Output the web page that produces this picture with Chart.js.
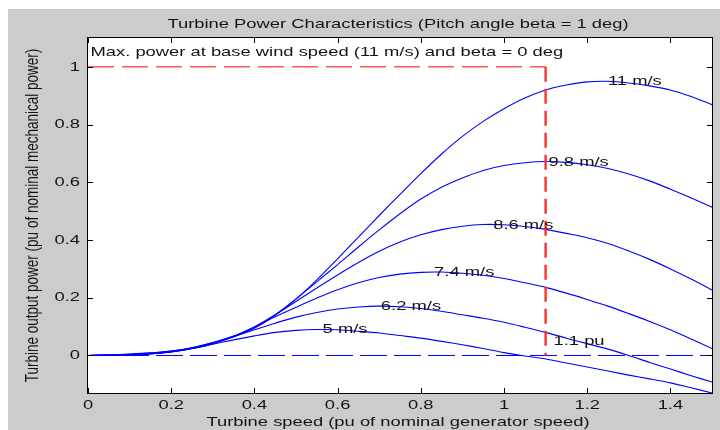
<!DOCTYPE html>
<html>
<head>
<meta charset="utf-8">
<script src="https://cdn.jsdelivr.net/npm/chart.js@4.4.1/dist/chart.umd.min.js"></script>
<style>
  html, body { margin: 0; padding: 0; background: #fff; }
  canvas { display: block; }
</style>
</head>
<body>
<canvas id="chart" width="720" height="430"></canvas>
<script>
// turbine speed (pu) and output power (pu) for each wind speed
const turbineSpeed = [0, 0.05, 0.1, 0.15, 0.2, 0.25, 0.3, 0.35, 0.4, 0.45, 0.5, 0.55, 0.6, 0.65, 0.7, 0.75,
  0.8, 0.85, 0.9, 0.95, 1, 1.05, 1.1, 1.15, 1.2, 1.25, 1.3, 1.35, 1.4, 1.45, 1.5];

const power11 = [0, 0.002, 0.005, 0.009, 0.015, 0.027, 0.045, 0.067, 0.095, 0.140, 0.195, 0.262, 0.335, 0.410, 0.485, 0.558,
  0.630, 0.698, 0.759, 0.811, 0.855, 0.892, 0.920, 0.937, 0.948, 0.950, 0.944, 0.934, 0.920, 0.897, 0.869];
const power98 = [0, 0.002, 0.004, 0.008, 0.015, 0.027, 0.043, 0.064, 0.095, 0.140, 0.196, 0.255, 0.315, 0.376, 0.435, 0.491,
  0.542, 0.583, 0.615, 0.641, 0.658, 0.668, 0.672, 0.669, 0.661, 0.648, 0.629, 0.605, 0.576, 0.546, 0.514];
const power86 = [0, 0.001, 0.003, 0.007, 0.014, 0.026, 0.042, 0.066, 0.099, 0.141, 0.187, 0.234, 0.279, 0.322, 0.361, 0.393,
  0.418, 0.436, 0.448, 0.454, 0.453, 0.447, 0.437, 0.423, 0.408, 0.388, 0.362, 0.333, 0.300, 0.265, 0.227];
const power74 = [0, 0.001, 0.003, 0.006, 0.013, 0.024, 0.041, 0.067, 0.099, 0.134, 0.167, 0.199, 0.228, 0.252, 0.270, 0.282,
  0.288, 0.289, 0.285, 0.278, 0.267, 0.252, 0.236, 0.216, 0.194, 0.171, 0.145, 0.118, 0.089, 0.057, 0.024];
const power62 = [0, 0.001, 0.002, 0.006, 0.012, 0.024, 0.043, 0.066, 0.089, 0.112, 0.133, 0.149, 0.161, 0.168, 0.171, 0.169,
  0.163, 0.153, 0.141, 0.129, 0.115, 0.098, 0.080, 0.060, 0.041, 0.022, 0.000, -0.024, -0.047, -0.070, -0.092];
const power50 = [0, 0.001, 0.002, 0.005, 0.012, 0.024, 0.039, 0.054, 0.068, 0.080, 0.087, 0.090, 0.089, 0.084, 0.078, 0.069,
  0.060, 0.049, 0.037, 0.024, 0.010, -0.002, -0.012, -0.026, -0.040, -0.054, -0.068, -0.081, -0.095, -0.112, -0.130];

// reference lines: max power at base wind speed, 1.1 pu speed limit, zero power
const maxPowerX = [0, 1.1];
const maxPowerY = [1, 1];
const speedLimitX = [1.1, 1.1];
const speedLimitY = [1, 0];
const zeroX = [0, 1.5];
const zeroY = [0, 0];

const xTicks = [0, 0.2, 0.4, 0.6, 0.8, 1, 1.2, 1.4];
const yTicks = [0, 0.2, 0.4, 0.6, 0.8, 1];

// text placed in data units (left edge, vertical middle)
const curveLabels = [
  { text: 'Max. power at base wind speed (11 m/s) and beta = 0 deg', x: 0.006, y: 1.049 },
  { text: '11 m/s', x: 1.25, y: 0.949 },
  { text: '9.8 m/s', x: 1.107, y: 0.670 },
  { text: '8.6 m/s', x: 0.974, y: 0.452 },
  { text: '7.4 m/s', x: 0.832, y: 0.288 },
  { text: '6.2 m/s', x: 0.704, y: 0.170 },
  { text: '5 m/s', x: 0.564, y: 0.090 },
  { text: '1.1 pu', x: 1.119, y: 0.050 }
];

const TITLE = 'Turbine Power Characteristics (Pitch angle beta = 1 deg)';
const X_TITLE = 'Turbine speed (pu of nominal generator speed)';
const Y_TITLE = 'Turbine output power (pu of nominal mechanical power)';

const FONT = "13.5px 'Liberation Sans', Arial, sans-serif";
const TEXT_COLOR = '#141414';
const STRETCH = 1.36; // the figure's text is wide

const toPoints = (xs, ys) => xs.map((x, i) => ({ x: x, y: ys[i] }));

function curve(values) {
  return {
    data: toPoints(turbineSpeed, values),
    borderColor: '#0000ff',
    borderWidth: 1.1,
    pointRadius: 0,
    tension: 0.3,
    fill: false
  };
}

function dashed(xs, ys, color, dash, width) {
  return {
    data: toPoints(xs, ys),
    borderColor: color,
    borderWidth: width,
    borderDash: dash,
    pointRadius: 0,
    tension: 0,
    fill: false
  };
}

function stretchedText(ctx, text, x, y, align, baseline, rotated) {
  ctx.save();
  ctx.translate(x, y);
  ctx.scale(STRETCH, 1);
  if (rotated) ctx.rotate(-Math.PI / 2);
  ctx.textAlign = align;
  ctx.textBaseline = baseline;
  ctx.fillText(text, 0, 0);
  ctx.restore();
}

const figurePlugin = {
  id: 'figure',
  beforeDraw(chart) {
    const { ctx, chartArea: a } = chart;
    ctx.save();
    ctx.fillStyle = '#ffffff';
    ctx.fillRect(0, 0, chart.width, chart.height);
    ctx.fillStyle = '#cccccc';
    ctx.fillRect(8, 9, chart.width - 8, chart.height - 9);
    ctx.fillStyle = '#ffffff';
    ctx.fillRect(a.left, a.top, a.right - a.left, a.bottom - a.top);
    ctx.restore();
  },
  afterDraw(chart) {
    const { ctx, chartArea: a } = chart;
    const xs = chart.scales.x;
    const ys = chart.scales.y;
    ctx.save();

    // axes box
    ctx.strokeStyle = '#000';
    ctx.lineWidth = 1;
    ctx.strokeRect(Math.round(a.left) - 0.5, Math.round(a.top) - 0.5,
      Math.round(a.right - a.left) + 1, Math.round(a.bottom - a.top) + 1);

    ctx.font = FONT;
    ctx.fillStyle = TEXT_COLOR;

    // ticks point inwards, on all four sides
    ctx.beginPath();
    xs.ticks.forEach(t => {
      const px = Math.round(xs.getPixelForValue(t.value)) + 0.5;
      ctx.moveTo(px, a.bottom); ctx.lineTo(px, a.bottom - 5);
      ctx.moveTo(px, a.top); ctx.lineTo(px, a.top + 5);
    });
    ys.ticks.forEach(t => {
      const py = Math.round(ys.getPixelForValue(t.value)) + 0.5;
      ctx.moveTo(a.left, py); ctx.lineTo(a.left + 5, py);
      ctx.moveTo(a.right, py); ctx.lineTo(a.right - 5, py);
    });
    ctx.stroke();

    xs.ticks.forEach(t => {
      stretchedText(ctx, String(t.value), xs.getPixelForValue(t.value), a.bottom + 12, 'center', 'middle');
    });
    ys.ticks.forEach(t => {
      stretchedText(ctx, String(t.value), a.left - 8, ys.getPixelForValue(t.value), 'right', 'middle');
    });

    const cx = (a.left + a.right) / 2;
    const cy = (a.top + a.bottom) / 2;
    stretchedText(ctx, TITLE, cx - 2, 24, 'center', 'middle');
    stretchedText(ctx, X_TITLE, cx - 2, 422, 'center', 'middle');
    stretchedText(ctx, Y_TITLE, 33, cy, 'center', 'middle', true);

    curveLabels.forEach(l => {
      stretchedText(ctx, l.text, xs.getPixelForValue(l.x), ys.getPixelForValue(l.y), 'left', 'middle');
    });

    ctx.restore();
  }
};

new Chart(document.getElementById('chart'), {
  type: 'line',
  data: {
    datasets: [
      dashed(speedLimitX, speedLimitY, '#ff3030', [15, 7], 2.4),
      dashed(maxPowerX, maxPowerY, '#ff0000', [26, 8], 1),
      dashed(zeroX, zeroY, '#0000ff', [27, 7], 1),
      curve(power11),
      curve(power98),
      curve(power86),
      curve(power74),
      curve(power62),
      curve(power50)
    ]
  },
  options: {
    responsive: false,
    animation: false,
    devicePixelRatio: 1,
    layout: { padding: { top: 38, right: 8, bottom: 0, left: 0 } },
    plugins: {
      legend: { display: false },
      tooltip: { enabled: false },
      title: { display: false }
    },
    scales: {
      x: {
        type: 'linear',
        min: 0,
        max: 1.5,
        grid: { display: false },
        border: { display: false },
        ticks: { display: false },
        afterBuildTicks: s => { s.ticks = xTicks.map(v => ({ value: v })); },
        afterFit: s => { s.height = 37; }
      },
      y: {
        type: 'linear',
        min: -0.13,
        max: 1.1,
        grid: { display: false },
        border: { display: false },
        ticks: { display: false },
        afterBuildTicks: s => { s.ticks = yTicks.map(v => ({ value: v })); },
        afterFit: s => { s.width = 88; }
      }
    }
  },
  plugins: [figurePlugin]
});
</script>
</body>
</html>
